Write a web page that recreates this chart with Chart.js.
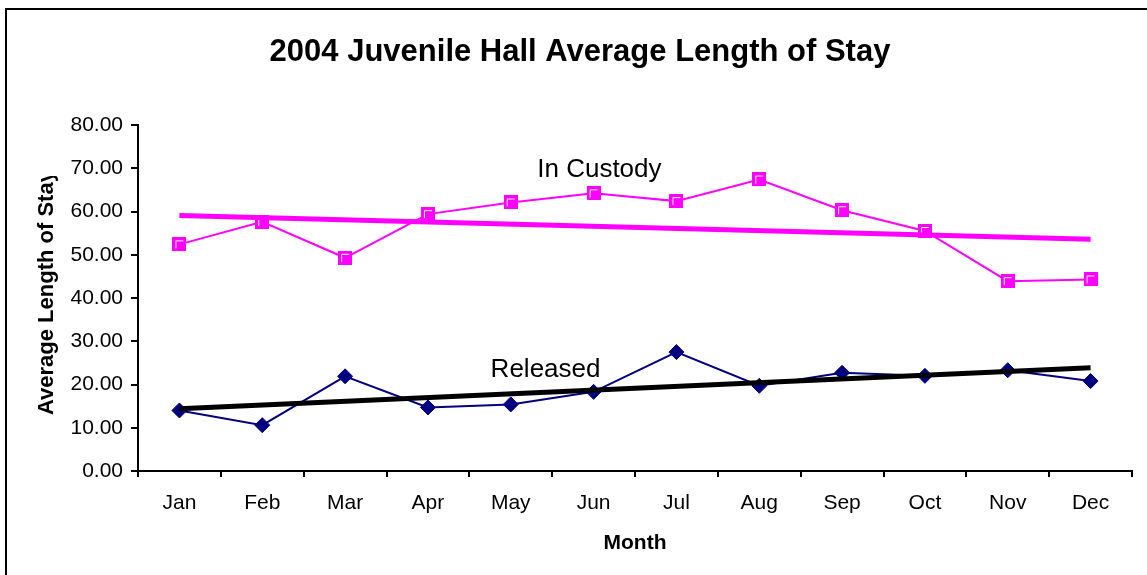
<!DOCTYPE html>
<html>
<head>
<meta charset="utf-8">
<script src="https://cdn.jsdelivr.net/npm/chart.js@4"></script>
<style>
  html, body { margin: 0; padding: 0; background: #fff; }
  #wrap { width: 1147px; height: 575px; position: relative; }
</style>
</head>
<body>
<div id="wrap"><canvas id="c"></canvas></div>
<script>
const months = ['Jan','Feb','Mar','Apr','May','Jun','Jul','Aug','Sep','Oct','Nov','Dec'];
const inCustody = [52.4, 57.6, 49.3, 59.4, 62.1, 64.2, 62.4, 67.4, 60.3, 55.5, 43.9, 44.3];
const released  = [14.0, 10.6, 21.9, 14.7, 15.4, 18.3, 27.5, 19.7, 22.7, 22.0, 23.3, 20.8];
const custodyTrend  = [59.1, 53.6];   // Jan, Dec
const releasedTrend = [14.4, 23.9];   // Jan, Dec
const yMin = 0, yMax = 80, yStep = 10;
const titleText = '2004 Juvenile Hall Average Length of Stay';
const xTitle = 'Month';
const yTitle = 'Average Length of Stay';
const seriesLabels = [
  { text: 'In Custody', x: 5.07, y: 68.0 },
  { text: 'Released',   x: 4.42, y: 21.7 }
];

const FONT = '"Liberation Sans", Arial, sans-serif';

function squareMarker() {
  const c = document.createElement('canvas');
  c.width = 14; c.height = 14;
  const g = c.getContext('2d');
  g.fillStyle = '#FF00FF';
  g.fillRect(0, 0, 14, 14);
  g.strokeStyle = '#FFFFFF';
  g.lineWidth = 1;
  g.beginPath();
  g.moveTo(3.5, 11);
  g.lineTo(3.5, 3.5);
  g.lineTo(11, 3.5);
  g.stroke();
  return c;
}

const decor = {
  id: 'decor',
  afterDraw(chart) {
    const ctx = chart.ctx;
    const xs = chart.scales.x, ys = chart.scales.y;
    const area = chart.chartArea;
    ctx.save();
    // frame
    ctx.strokeStyle = '#000';
    ctx.lineWidth = 2;
    ctx.beginPath();
    ctx.moveTo(6, 575);
    ctx.lineTo(6, 9);
    ctx.lineTo(1147, 9);
    ctx.stroke();
    // title
    ctx.fillStyle = '#000';
    ctx.font = 'bold 31px ' + FONT;
    ctx.textAlign = 'center';
    ctx.textBaseline = 'alphabetic';
    ctx.fillText(titleText, 580, 61);
    // x title
    ctx.font = 'bold 21px ' + FONT;
    ctx.fillText(xTitle, (area.left + area.right) / 2, 549);
    // series labels
    ctx.font = '26px ' + FONT;
    seriesLabels.forEach(l => {
      ctx.fillText(l.text, xs.getPixelForValue(l.x), ys.getPixelForValue(l.y));
    });
    // y title (clipped at top like the reference)
    ctx.save();
    ctx.beginPath();
    ctx.rect(0, 176, 130, 400);
    ctx.clip();
    ctx.translate(47, 415);
    ctx.rotate(-Math.PI / 2);
    ctx.font = 'bold 22px ' + FONT;
    ctx.textAlign = 'left';
    ctx.textBaseline = 'middle';
    ctx.fillText(yTitle, 0, 0);
    ctx.restore();
    ctx.restore();
  }
};

new Chart(document.getElementById('c'), {
  type: 'line',
  data: {
    labels: months,
    datasets: [
      {
        label: 'In Custody trend',
        data: [{ x: months[0], y: custodyTrend[0] }, { x: months[months.length - 1], y: custodyTrend[1] }],
        borderColor: '#FF00FF',
        borderWidth: 5,
        pointRadius: 0,
        order: 0
      },
      {
        label: 'Released trend',
        data: [{ x: months[0], y: releasedTrend[0] }, { x: months[months.length - 1], y: releasedTrend[1] }],
        borderColor: '#000000',
        borderWidth: 5,
        pointRadius: 0,
        order: 0
      },
      {
        label: 'In Custody',
        data: inCustody,
        borderColor: '#FF00FF',
        borderWidth: 2,
        pointStyle: squareMarker(),
        pointRadius: 7,
        order: 1
      },
      {
        label: 'Released',
        data: released,
        borderColor: '#000080',
        backgroundColor: '#000080',
        borderWidth: 2,
        pointStyle: 'rectRot',
        pointRadius: 7.5,
        pointBorderWidth: 1,
        order: 1
      }
    ]
  },
  options: {
    responsive: true,
    maintainAspectRatio: false,
    animation: false,
    devicePixelRatio: 1,
    layout: { padding: { left: 0, top: 125, right: 15, bottom: 0 } },
    plugins: {
      legend: { display: false },
      title: { display: false },
      tooltip: { enabled: false }
    },
    elements: { line: { tension: 0 } },
    scales: {
      x: {
        type: 'category',
        offset: true,
        grid: {
          offset: true,
          drawOnChartArea: false,
          drawTicks: true,
          tickLength: 6,
          lineWidth: 2,
          color: '#000'
        },
        border: { display: true, color: '#000', width: 2 },
        ticks: {
          color: '#000',
          font: { family: FONT, size: 21 },
          padding: 14,
          maxRotation: 0,
          autoSkip: false
        },
        afterFit(scale) { scale.height = 104; }
      },
      y: {
        min: yMin,
        max: yMax,
        grid: {
          drawOnChartArea: false,
          drawTicks: true,
          tickLength: 7,
          lineWidth: 2,
          color: '#000'
        },
        border: { display: true, color: '#000', width: 2 },
        ticks: {
          stepSize: yStep,
          color: '#000',
          font: { family: FONT, size: 21 },
          padding: 8,
          callback: v => Number(v).toFixed(2)
        },
        afterFit(scale) { scale.width = 138; }
      }
    }
  },
  plugins: [decor]
});
</script>
</body>
</html>
